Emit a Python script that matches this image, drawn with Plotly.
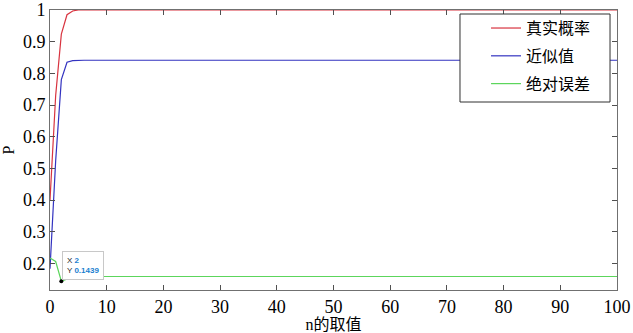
import plotly.graph_objects as go

# n values (the curves are flat after n = 5)
n_vals = [0, 1, 2, 3, 4, 5, 6, 8, 10, 20, 30, 40, 50, 60, 70, 80, 90, 100]
true_prob = [0.400, 0.730, 0.924, 0.985, 0.997, 1.0, 1.0, 1.0, 1.0, 1.0, 1.0, 1.0, 1.0, 1.0, 1.0, 1.0, 1.0, 1.0]
approx_val = [0.183, 0.524, 0.780, 0.835, 0.840, 0.8413, 0.8413, 0.8413, 0.8413, 0.8413, 0.8413, 0.8413,
              0.8413, 0.8413, 0.8413, 0.8413, 0.8413, 0.8413]
abs_err = [0.217, 0.206, 0.1439, 0.150, 0.157, 0.1587, 0.1587, 0.1587, 0.1587, 0.1587, 0.1587, 0.1587,
           0.1587, 0.1587, 0.1587, 0.1587, 0.1587, 0.1587]
series_names = ["真实概率", "近似值", "绝对误差"]
tip_x, tip_y = 2, 0.1439

x_ticks = [0, 10, 20, 30, 40, 50, 60, 70, 80, 90, 100]
y_ticks = [0.2, 0.3, 0.4, 0.5, 0.6, 0.7, 0.8, 0.9, 1.0]
y_tick_text = ["0.2", "0.3", "0.4", "0.5", "0.6", "0.7", "0.8", "0.9", "1"]

SERIF = "Liberation Serif, Times New Roman, serif"

fig = go.Figure()
colors = ["#d8333f", "#3333c0", "#5cd65c"]
for i, (name, ys, c) in enumerate(zip(series_names, [true_prob, approx_val, abs_err], colors)):
    fig.add_trace(go.Scatter(x=n_vals, y=ys, mode="lines", name=name,
                             legendgroup=f"g{i}",
                             line=dict(color=c, width=1.2)))

fig.add_trace(go.Scatter(x=[tip_x], y=[tip_y], mode="markers", showlegend=False,
                         marker=dict(color="black", size=4)))

fig.add_annotation(x=tip_x, y=tip_y, xref="x", yref="y", showarrow=False,
                   xanchor="left", yanchor="bottom", xshift=1, yshift=1,
                   align="left",
                   text=f"X <b><span style='color:#1a7fd0'>{tip_x}</span></b><br>Y <b><span style='color:#1a7fd0'>{tip_y:.4f}</span></b>",
                   font=dict(family="Arial", size=8, color="#222"),
                   bgcolor="white", bordercolor="#c8c8c8", borderwidth=1, borderpad=4)

# legend frame (white box that hides the lines behind the legend)
fig.add_shape(type="rect", xref="paper", yref="paper",
              x0=0.7231, x1=0.9877, y0=0.6714, y1=0.9857,
              fillcolor="white", line=dict(color="#303030", width=1), layer="above")

axis_common = dict(showgrid=False, zeroline=False, showline=True, linecolor="#707070",
                   linewidth=1, mirror="ticks", ticks="inside", ticklen=5,
                   tickcolor="#505050", automargin=False,
                   tickfont=dict(family=SERIF, size=18, color="black"))

fig.update_layout(
    width=633, height=333,
    margin=dict(l=50, r=16, t=10, b=43),
    paper_bgcolor="white", plot_bgcolor="white",
    xaxis=dict(range=[0, 100], tickvals=x_ticks,
               title=dict(text="n的取值", standoff=2,
                          font=dict(family=SERIF + ", Noto Sans CJK SC", size=16, color="black")),
               **axis_common),
    yaxis=dict(range=[0.116, 1], tickvals=y_ticks, ticktext=y_tick_text,
               title=dict(text="P", standoff=6,
                          font=dict(family=SERIF, size=16, color="black")),
               **axis_common),
    legend=dict(x=0.769, y=0.996, xanchor="left", yanchor="top",
                bgcolor="rgba(0,0,0,0)", borderwidth=0,
                font=dict(family="Noto Sans CJK SC", size=16, color="black"),
                traceorder="grouped", tracegroupgap=4, itemwidth=30),
    showlegend=True,
)

fig.write_html("out.html", config={"displayModeBar": False},
               post_script="document.body.style.margin='0';document.body.style.overflow='hidden';")
